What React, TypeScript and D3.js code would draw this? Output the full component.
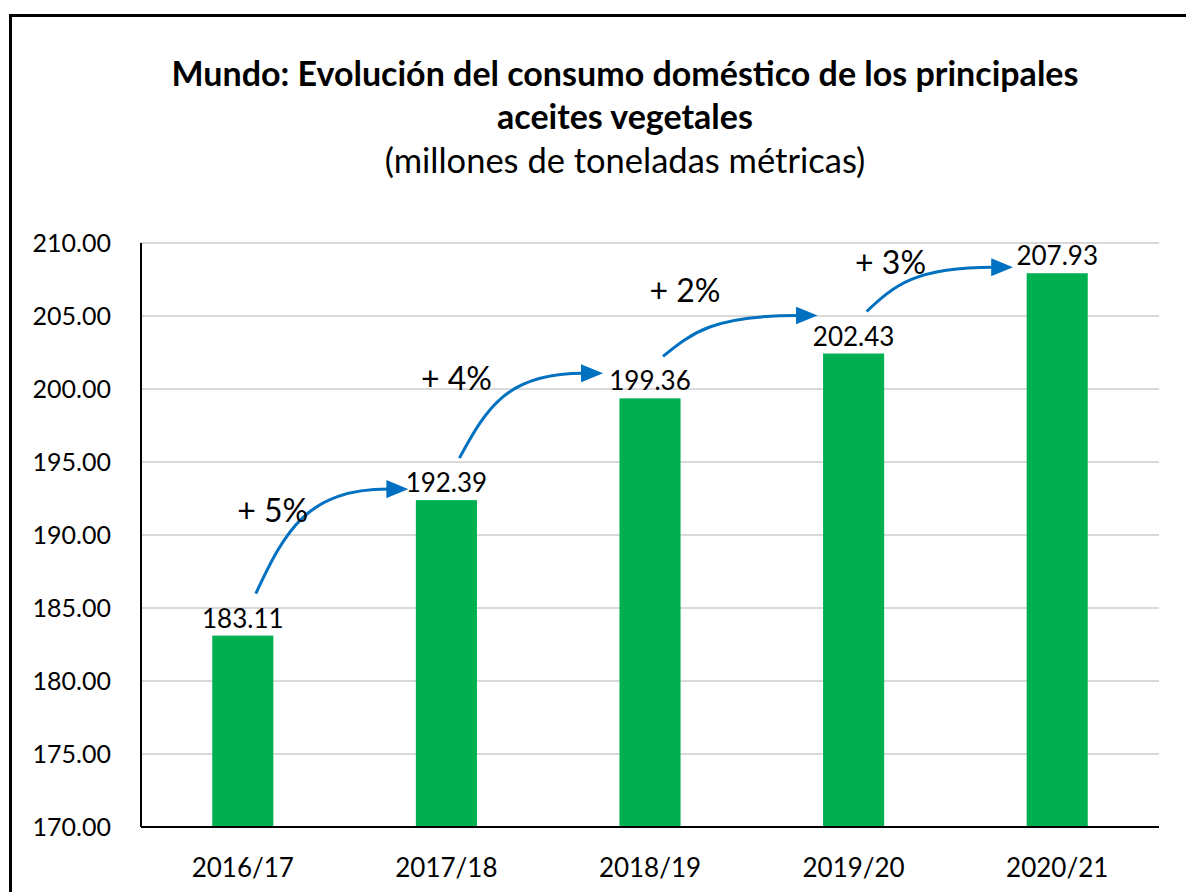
import React from 'react';
import * as d3 from 'd3';

// datos del gráfico
const campanas = ['2016/17', '2017/18', '2018/19', '2019/20', '2020/21'];
const consumo = [183.11, 192.39, 199.36, 202.43, 207.93];
const variaciones = ['+ 5%', '+ 4%', '+ 2%', '+ 3%'];
const yTicks = [170, 175, 180, 185, 190, 195, 200, 205, 210];

// ajustes de las flechas (relativos a las barras)
const arrowEnd = [[-44, -11], [-53, -25], [-42, -38], [-50, -6]];
const pctPos = [[17, -72], [-3, -68], [22, -54], [24, -38]];

const W = 1186;
const H = 892;
const FONT = 'Lato, "Open Sans", sans-serif';

export default function App() {
  const left = 141;
  const right = 1159;
  const top = 243;
  const bottom = 827;

  const x = d3.scaleBand().domain(campanas).range([left, right]).paddingInner(0.7).paddingOuter(0.35);
  const y = d3.scaleLinear().domain([170, 210]).range([bottom, top]);
  const cx = (c: string) => (x(c) as number) + x.bandwidth() / 2;

  // flechas curvas entre barras consecutivas
  const arrows = variaciones.map((txt, i) => {
    const s = [cx(campanas[i]) + 13, y(consumo[i]) - 42];
    const e = [cx(campanas[i + 1]) + arrowEnd[i][0], y(consumo[i + 1]) + arrowEnd[i][1]];
    const dx = e[0] - s[0];
    const dy = Math.abs(e[1] - s[1]);
    const p = d3.path();
    p.moveTo(s[0], s[1]);
    p.bezierCurveTo(s[0] + 0.2 * dx, s[1] - 0.6 * dy, s[0] + 0.35 * dx, e[1], e[0] - 14, e[1]);
    return { txt, d: p.toString(), lx: s[0] + pctPos[i][0], ly: s[1] + pctPos[i][1], e };
  });

  return (
    <svg width={W} height={H} style={{ position: 'fixed', left: 0, top: 0, display: 'block', background: '#fff' }}>
      <defs>
        <marker id="head" markerUnits="userSpaceOnUse" markerWidth="22" markerHeight="18" refX="2" refY="9" orient="auto">
          <path d="M0,0 L22,9 L0,18 Z" fill="#0070C0" />
        </marker>
      </defs>
      {/* marco */}
      <rect x={10.5} y={15.5} width={1300} height={1000} fill="none" stroke="#000" strokeWidth={3} />

      {/* títulos */}
      <g fontFamily={FONT} textAnchor="middle" fill="#000">
        <text x={625} y={86} fontSize={34} fontWeight="bold">Mundo: Evolución del consumo doméstico de los principales</text>
        <text x={625} y={129} fontSize={34} fontWeight="bold">aceites vegetales</text>
        <text x={625} y={173} fontSize={34.5}>(millones de toneladas métricas)</text>
      </g>

      {/* rejilla y eje y */}
      {yTicks.map((t) => (
        <g key={t}>
          {t > 170 && <line x1={left} x2={right} y1={y(t)} y2={y(t)} stroke="#d9d9d9" strokeWidth={2} />}
          <text x={111} y={y(t) + 9} textAnchor="end" fontFamily={FONT} fontSize={25}>
            {d3.format('.2f')(t)}
          </text>
        </g>
      ))}

      {/* barras */}
      {campanas.map((c, i) => (
        <rect key={c} x={x(c)} y={y(consumo[i])} width={x.bandwidth()} height={bottom - y(consumo[i])} fill="#00B050" />
      ))}

      <line x1={left} x2={left} y1={top} y2={bottom} stroke="#000" strokeWidth={2} />
      <line x1={left} x2={right} y1={bottom} y2={bottom} stroke="#000" strokeWidth={2} />

      {/* etiquetas eje x */}
      {campanas.map((c) => (
        <text key={c} x={cx(c)} y={877} textAnchor="middle" fontFamily={FONT} fontSize={26}>
          {c}
        </text>
      ))}

      {/* valores */}
      {campanas.map((c, i) => (
        <text key={c} x={cx(c)} y={y(consumo[i]) - 8} textAnchor="middle" fontFamily={FONT} fontSize={26}>
          {consumo[i].toFixed(2)}
        </text>
      ))}

      {/* flechas de variación */}
      {arrows.map((a) => (
        <g key={a.txt}>
          <path d={a.d} fill="none" stroke="#0070C0" strokeWidth={3} markerEnd="url(#head)" />
          <text x={a.lx} y={a.ly} textAnchor="middle" fontFamily={FONT} fontSize={32}>
            {a.txt}
          </text>
        </g>
      ))}
    </svg>
  );
}
